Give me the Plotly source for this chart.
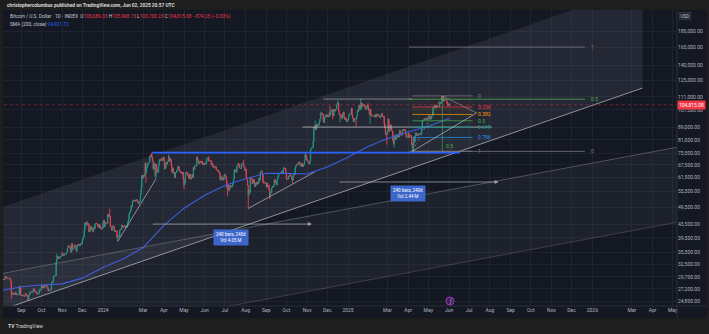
import math
import pandas as pd
import plotly.graph_objects as go

# ---------------- BTC/USD daily closes (thousands of USD) ----------------
close_2023_08 = [29.1, 29.05, 29.2, 29.8, 29.55, 29.4, 29.4, 29.3, 29.3, 29.4, 29.2, 28.7, 26.6, 26.05,
                 26.1, 26.2, 26.1, 26.4, 26.5, 26.0, 26.1, 26.0, 26.1, 26.1, 27.7, 27.3, 25.9]
close_2023_09 = [25.8, 25.9, 25.95, 25.8, 25.8, 25.75, 26.25, 25.9, 25.9, 25.85, 25.15, 25.85, 26.2, 26.5, 26.6,
                 26.55, 26.5, 26.8, 27.2, 27.1, 26.6, 26.55, 26.6, 26.25, 26.3, 26.2, 26.35, 27.0, 26.9, 27.0]
close_2023_10 = [27.95, 27.6, 27.4, 27.8, 27.4, 27.95, 27.95, 27.9, 27.6, 27.4, 26.85, 26.75, 26.85, 26.85, 27.15,
                 28.5, 28.4, 28.7, 29.7, 29.9, 29.9, 30.0, 33.1, 33.9, 34.5, 34.15, 33.9, 34.1, 34.5, 34.5, 34.65]
close_2023_11 = [35.4, 34.9, 34.7, 35.1, 35.0, 35.05, 35.4, 35.6, 36.7, 37.3, 37.1, 37.05, 36.5, 35.55, 37.9,
                 36.2, 36.6, 36.6, 37.4, 37.5, 37.4, 35.8, 37.4, 37.3, 37.7, 37.5, 37.25, 37.8, 37.85, 37.7]
close_2023_12 = [38.7, 39.5, 39.95, 41.8, 44.1, 43.8, 43.3, 44.2, 43.7, 43.8, 41.25, 41.45, 42.9, 43.0, 41.9,
                 42.25, 41.35, 42.6, 42.25, 43.65, 43.9, 43.95, 43.7, 43.0, 43.6, 42.5, 43.4, 42.6, 42.1, 42.15, 42.3]
close_2024_01 = [44.2, 45.0, 42.85, 44.2, 44.15, 43.95, 43.95, 47.0, 46.1, 46.6, 46.35, 42.9, 42.85, 41.75, 42.5,
                 43.15, 42.75, 41.3, 41.6, 41.65, 41.55, 39.5, 39.85, 40.1, 39.9, 41.8, 42.1, 42.0, 43.3, 42.95, 42.6]
close_2024_02 = [43.1, 43.2, 43.0, 42.6, 42.7, 43.1, 44.35, 45.3, 47.15, 47.75, 48.3, 49.95, 49.7, 51.8, 51.9,
                 52.1, 51.65, 52.1, 51.8, 52.3, 51.85, 51.3, 50.75, 51.6, 51.7, 54.5, 57.1, 62.5, 61.2]
close_2024_03 = [62.4, 62.0, 63.1, 68.3, 63.8, 66.1, 66.9, 68.3, 68.5, 69.0, 72.1, 71.5, 73.1, 71.4, 69.5,
                 65.3, 68.4, 67.6, 62.0, 67.9, 65.5, 63.8, 64.0, 67.2, 70.0, 69.95, 69.45, 70.8, 69.9, 69.7, 71.3]
close_2024_04 = [69.7, 65.45, 65.95, 68.5, 67.8, 68.9, 69.4, 71.6, 69.1, 70.6, 70.0, 67.1, 63.9, 65.7, 63.4,
                 63.8, 61.3, 63.5, 63.8, 64.9, 64.9, 66.8, 66.4, 64.3, 64.5, 63.8, 63.45, 63.1, 63.85, 60.6]
close_2024_05 = [58.2, 59.1, 62.9, 63.9, 64.0, 63.2, 62.3, 61.2, 63.1, 60.8, 60.8, 61.5, 62.9, 61.55, 66.2,
                 65.2, 67.0, 67.05, 66.9, 71.4, 70.1, 69.2, 67.9, 68.5, 69.3, 68.5, 69.4, 68.3, 67.6, 68.4, 67.5]
close_2024_06 = [67.7, 67.75, 68.8, 70.6, 71.05, 70.8, 69.35, 69.3, 69.65, 69.5, 67.3, 68.25, 66.75, 66.0, 66.2,
                 66.7, 66.5, 65.2, 64.95, 64.85, 64.1, 64.25, 63.2, 60.3, 61.8, 60.85, 61.7, 60.3, 60.9, 62.7]
close_2024_07 = [62.85, 62.0, 60.2, 57.05, 56.65, 58.2, 55.85, 56.7, 58.0, 57.7, 57.35, 57.9, 59.2, 60.8, 64.9,
                 65.1, 64.1, 63.9, 66.7, 67.15, 68.2, 67.6, 65.9, 65.8, 65.75, 67.9, 68.25, 68.25, 66.8, 66.2, 64.6]
close_2024_08 = [65.35, 61.4, 60.7, 58.1, 54.0, 56.0, 55.1, 61.7, 60.9, 60.9, 58.7, 59.3, 60.6, 58.7, 57.5,
                 59.0, 59.5, 58.4, 59.5, 59.0, 61.2, 60.4, 64.1, 64.2, 64.2, 62.8, 59.4, 59.0, 59.4, 59.1, 58.95]
close_2024_09 = [57.3, 59.1, 57.5, 57.95, 56.2, 53.95, 54.85, 54.9, 57.0, 57.6, 57.35, 58.1, 60.6, 60.0, 59.2,
                 58.2, 60.3, 61.8, 62.9, 63.2, 63.35, 63.6, 63.35, 64.3, 63.15, 65.2, 65.8, 65.9, 65.6, 63.3]
close_2024_10 = [60.8, 60.6, 60.75, 62.1, 62.05, 62.8, 62.2, 62.15, 60.6, 60.3, 62.45, 63.2, 62.85, 66.05, 67.0,
                 67.6, 67.4, 68.4, 68.35, 69.0, 67.4, 67.4, 66.65, 68.2, 66.6, 67.0, 67.9, 69.9, 72.7, 72.3, 70.2]
close_2024_11 = [69.5, 69.3, 68.7, 67.8, 69.3, 75.6, 75.9, 76.55, 76.7, 80.4, 88.7, 88.0, 90.4, 87.25, 91.05,
                 90.5, 89.8, 90.5, 92.3, 94.3, 98.4, 98.9, 97.7, 98.0, 93.0, 91.95, 95.95, 95.65, 97.45, 96.4]
close_2024_12 = [97.2, 95.85, 96.0, 98.8, 97.0, 99.9, 99.9, 101.2, 97.4, 96.6, 101.2, 100.0, 101.5, 101.4, 104.5,
                 106.1, 106.1, 100.0, 97.5, 97.75, 97.2, 95.1, 94.7, 98.6, 99.4, 95.8, 94.2, 95.2, 93.5, 92.6, 93.4]
close_2025_01 = [94.4, 96.9, 98.1, 98.2, 98.3, 102.1, 96.9, 95.0, 92.5, 94.7, 94.6, 94.5, 94.5, 96.5, 100.5,
                 99.75, 104.1, 104.4, 101.1, 102.0, 106.1, 103.6, 103.9, 104.8, 104.7, 102.6, 102.1, 101.3, 103.7, 104.7, 102.4]
close_2025_02 = [100.6, 97.7, 101.4, 97.9, 96.6, 96.5, 96.5, 96.5, 96.1, 97.4, 95.7, 97.8, 96.6, 97.5, 97.6,
                 96.1, 95.8, 95.5, 96.6, 98.3, 96.1, 96.5, 96.3, 91.4, 88.7, 84.3, 84.7, 84.4]
close_2025_03 = [86.1, 94.3, 86.1, 87.2, 90.6, 89.9, 86.8, 86.2, 80.6, 78.5, 82.9, 83.7, 81.1, 84.0, 84.3,
                 82.6, 84.1, 82.7, 86.9, 84.2, 84.0, 83.8, 86.1, 87.5, 87.4, 86.9, 87.2, 84.4, 82.6, 82.4, 82.5]
close_2025_04 = [85.2, 82.5, 83.1, 83.8, 83.5, 78.2, 79.2, 76.3, 82.6, 79.6, 83.4, 85.3, 83.7, 84.5, 83.7,
                 84.0, 84.9, 84.4, 85.1, 85.1, 87.5, 93.4, 93.7, 93.9, 94.7, 94.6, 93.8, 95.0, 94.3, 94.2]
close_2025_05 = [96.5, 96.9, 95.9, 94.3, 94.7, 96.8, 97.0, 103.2, 102.9, 104.7, 104.2, 102.8, 104.2, 103.5, 103.7,
                 103.5, 103.2, 106.5, 105.6, 106.8, 109.7, 111.7, 107.3, 107.8, 109.0, 109.4, 108.9, 107.8, 105.6, 103.9, 104.6]
close_2025_06 = [105.68933, 104.81508]

first_open_k = 29.2

# intraday extremes that reach past the open/close range (thousands of USD)
wick_high = {"2023-10-24": 35.2, "2023-12-08": 44.7, "2024-01-11": 49.0, "2024-03-05": 69.0,
             "2024-03-14": 73.8, "2024-04-08": 72.7, "2024-05-21": 71.9, "2024-06-07": 71.9,
             "2024-07-29": 70.0, "2024-08-25": 65.0, "2024-09-27": 66.5, "2024-10-29": 73.6,
             "2024-11-13": 93.3, "2024-11-22": 99.6, "2024-12-05": 103.9, "2024-12-17": 108.3,
             "2025-01-20": 109.6, "2025-01-31": 106.0, "2025-03-02": 95.0, "2025-05-22": 111.9,
             "2025-06-02": 105.96815}
wick_low = {"2023-08-17": 25.2, "2023-09-11": 24.9, "2024-01-23": 38.5, "2024-03-05": 59.0,
            "2024-03-20": 60.8, "2024-05-01": 56.5, "2024-07-05": 53.5, "2024-08-05": 49.0,
            "2024-09-06": 52.5, "2024-10-10": 58.9, "2024-12-09": 94.2, "2024-12-20": 92.2,
            "2025-01-13": 89.3, "2025-02-03": 91.2, "2025-02-28": 78.2, "2025-03-11": 76.6,
            "2025-04-07": 74.5, "2025-04-09": 74.6, "2025-06-02": 103.70023}

# 200-day simple moving average of the close (thousands of USD)
sma_dates = ["2023-08-05", "2023-09-01", "2023-10-01", "2023-11-01", "2023-12-01", "2024-01-01",
             "2024-02-01", "2024-03-01", "2024-04-01", "2024-05-01", "2024-06-01", "2024-07-01",
             "2024-08-01", "2024-09-01", "2024-10-01", "2024-11-01", "2024-12-01", "2025-01-01",
             "2025-02-01", "2025-03-01", "2025-04-01", "2025-05-01", "2025-06-02"]
sma_values = [26.9, 27.6, 27.95, 28.2, 29.4, 31.8, 33.9, 36.8, 43.3, 49.1, 54.0, 57.95,
              60.95, 63.4, 63.4, 63.1, 66.4, 71.3, 77.3, 81.8, 85.8, 89.5, 94.92172]

# axis ticks
x_tick_dates = ["2023-09-01", "2023-10-01", "2023-11-01", "2023-12-01", "2024-01-01", "2024-03-01",
                "2024-04-01", "2024-05-01", "2024-06-01", "2024-07-01", "2024-08-01", "2024-09-01",
                "2024-10-01", "2024-11-01", "2024-12-01", "2025-01-01", "2025-03-01", "2025-04-01",
                "2025-05-01", "2025-06-01", "2025-07-01", "2025-08-01", "2025-09-01", "2025-10-01",
                "2025-11-01", "2025-12-01", "2026-01-01", "2026-03-01", "2026-04-01", "2026-05-01"]
x_tick_text = ["Sep", "Oct", "Nov", "Dec", "2024", "Mar", "Apr", "May", "Jun", "Jul", "Aug", "Sep",
               "Oct", "Nov", "Dec", "2025", "Mar", "Apr", "May", "Jun", "Jul", "Aug", "Sep", "Oct",
               "Nov", "Dec", "2026", "Mar", "Apr", "May"]
y_tick_values = [180000, 160000, 140000, 125000, 111000, 101000, 89000, 81000, 73500, 67500,
                 61500, 55500, 49500, 43500, 39500, 35500, 32500, 29700, 27200, 24800]

# ---------------- build OHLC ----------------
months = [close_2023_08, close_2023_09, close_2023_10, close_2023_11, close_2023_12,
          close_2024_01, close_2024_02, close_2024_03, close_2024_04, close_2024_05, close_2024_06,
          close_2024_07, close_2024_08, close_2024_09, close_2024_10, close_2024_11, close_2024_12,
          close_2025_01, close_2025_02, close_2025_03, close_2025_04, close_2025_05, close_2025_06]
closes = [v * 1000 for m in months for v in m]
dates = pd.date_range("2023-08-05", "2025-06-02", freq="D")
assert len(dates) == len(closes), (len(dates), len(closes))
opens = [first_open_k * 1000] + closes[:-1]
highs = [max(o, c) for o, c in zip(opens, closes)]
lows = [min(o, c) for o, c in zip(opens, closes)]
pos = {d.strftime("%Y-%m-%d"): i for i, d in enumerate(dates)}
for d, v in wick_high.items():
    highs[pos[d]] = max(highs[pos[d]], v * 1000)
for d, v in wick_low.items():
    lows[pos[d]] = min(lows[pos[d]], v * 1000)

last_o, last_h, last_l, last_c = opens[-1], highs[-1], lows[-1], closes[-1]
chg = last_c - last_o
sma_last = sma_values[-1] * 1000

# ---------------- canvas geometry ----------------
W, H = 709, 334
ML, MR, MT, MB = 3, 32, 10, 28
PW, PH = W - ML - MR, H - MT - MB
BG_PANEL = "#141823"
BG_OUTER = "#1e1e1e"
GRID = "#1f2330"
TXT = "#b2b5be"
GREEN, RED, BLUE = "#089981", "#f23645", "#2962ff"
FONT = "Roboto"


def px(x):
    return (x - ML) / PW


def py(y):
    return (H - MB - y) / PH


def lg(v):
    return math.log10(v)


fig = go.Figure()


def seg(x, y, color, width=1.0, dash=None, fill=None, fillcolor=None):
    fig.add_trace(go.Scatter(x=x, y=y, mode="lines", fill=fill, fillcolor=fillcolor,
                             line=dict(color=color, width=width, dash=dash),
                             hoverinfo="skip", showlegend=False))


# ---------------- parallel channels ----------------
chan_a_x = ["2023-08-05", "2026-03-17"]
chan_a_upper = [49600, 251000]
chan_a_lower = [23400, 118500]
seg([chan_a_x[0], chan_a_x[1], chan_a_x[1], chan_a_x[0], chan_a_x[0]],
    [chan_a_upper[0], chan_a_upper[1], chan_a_lower[1], chan_a_lower[0], chan_a_upper[0]],
    "rgba(0,0,0,0)", 0, fill="toself", fillcolor="rgba(150,155,170,0.13)")

chan_b_x = ["2023-07-01", "2026-06-01"]
chan_b_upper = [29500, 78500]
chan_b_lower = [17000, 45300]
seg([chan_b_x[0], chan_b_x[1], chan_b_x[1], chan_b_x[0], chan_b_x[0]],
    [chan_b_upper[0], chan_b_upper[1], chan_b_lower[1], chan_b_lower[0], chan_b_upper[0]],
    "rgba(0,0,0,0)", 0, fill="toself", fillcolor="rgba(150,155,170,0.07)")

# fib retracement shading
fib_lo, fib_hi = 74500, 111900
fib_x0, fib_x1 = "2025-04-07", "2025-07-06"
fib_levels = [0, 0.236, 0.382, 0.5, 0.618, 0.786, 1]
fib_colors = ["#787b86", "#f23645", "#ff9800", "#4caf50", "#089981", "#2196f3", "#787b86"]
fib_fill = ["rgba(242,54,69,0.04)", "rgba(255,152,0,0.04)", "rgba(76,175,80,0.04)",
            "rgba(8,153,129,0.04)", "rgba(33,150,243,0.04)", "rgba(120,123,134,0.04)"]
fib_prices = [fib_hi - (fib_hi - fib_lo) * lv for lv in fib_levels]
for i in range(len(fib_levels) - 1):
    a, b = fib_prices[i], fib_prices[i + 1]
    seg([fib_x0, fib_x1, fib_x1, fib_x0, fib_x0], [a, a, b, b, a], "rgba(0,0,0,0)", 0,
        fill="toself", fillcolor=fib_fill[i])

# ---------------- candles ----------------
fig.add_trace(go.Candlestick(
    x=dates, open=opens, high=highs, low=lows, close=closes,
    increasing=dict(line=dict(color=GREEN, width=0.9), fillcolor=GREEN),
    decreasing=dict(line=dict(color=RED, width=0.9), fillcolor=RED),
    whiskerwidth=0, hoverinfo="skip", showlegend=False))

# SMA 200
fig.add_trace(go.Scatter(x=sma_dates, y=[v * 1000 for v in sma_values], mode="lines",
                         line=dict(color="#3d5ee0", width=1.1), hoverinfo="skip", showlegend=False))

# ---------------- drawings ----------------
# channel edges
seg([chan_a_x[0], chan_a_x[1]], chan_a_lower, "rgba(210,212,220,0.7)", 0.9)
seg([chan_b_x[0], chan_b_x[1]], chan_b_upper, "rgba(140,143,152,0.6)", 0.8)
seg([chan_b_x[0], chan_b_x[1]], chan_b_lower, "rgba(140,143,152,0.4)", 0.8)

# support trend lines
seg(["2024-01-23", "2024-03-20"], [38500, 60800], "rgba(210,212,220,0.75)", 0.8)
seg(["2024-08-05", "2024-11-12"], [49000, 64000], "rgba(210,212,220,0.75)", 0.8)

# horizontal levels
seg(["2024-03-14", "2025-06-17"], [73800, 73800], BLUE, 1.8)
seg(["2024-11-25", "2025-04-07"], [109300, 109300], "rgba(200,202,210,0.7)", 0.8)
seg(["2024-10-25", "2025-08-04"], [89000, 89000], "rgba(220,222,230,0.8)", 0.8)

# fib retracement lines + labels
for lv, pr, col in zip(fib_levels, fib_prices, fib_colors):
    seg([fib_x0, fib_x1], [pr, pr], col, 0.7)
    txt = "0" if lv == 0 else ("1" if lv == 1 else f"{lv:g}")
    fig.add_annotation(x=fib_x1, y=lg(pr), text=txt, showarrow=False, xanchor="left", xshift=3,
                       font=dict(family=FONT, size=5, color=col))
seg([fib_x0, "2025-05-22"], [fib_lo, fib_hi], "rgba(160,163,172,0.7)", 0.7, dash="dot")
seg(["2025-05-22", "2025-07-12"], [fib_hi, 98700], "rgba(160,163,172,0.7)", 0.8)
seg([fib_x0, "2025-07-12"], [fib_lo, 98700], "rgba(210,212,220,0.75)", 0.8)
seg(["2025-05-22", "2025-05-22"], [fib_lo, fib_hi], "rgba(76,175,80,0.7)", 0.8)
fig.add_annotation(x="2025-05-22", y=lg(fib_lo), text="0.5", showarrow=False, xanchor="left",
                   yanchor="bottom", xshift=2, font=dict(family=FONT, size=5, color="#4caf50"))

# log-scaled fib extension (0 / 0.5 / 1)
ext_x0, ext_x1 = "2025-04-02", "2025-12-21"
ext_lo, ext_hi = 74500, 160000
ext_mid = math.sqrt(ext_lo * ext_hi)
for lvl, pr, col in [("0", ext_lo, "#787b86"), ("0.5", ext_mid, "#4caf50"), ("1", ext_hi, "#787b86")]:
    seg([ext_x0, ext_x1], [pr, pr], col, 0.8)
    fig.add_annotation(x=ext_x1, y=lg(pr), text=lvl, showarrow=False, xanchor="left", xshift=4,
                       font=dict(family=FONT, size=5, color=col))

# current price line
seg(["2023-07-01", "2026-06-01"], [last_c, last_c], "rgba(242,54,69,0.7)", 0.6, dash="dot")

# date/price range measurements
for (d0, d1, lvl, box_d, box_p, vol) in [("2024-03-13", "2024-11-08", 43700, "2024-07-10", 39700, "4.05 M"),
                                         ("2024-12-17", "2025-08-14", 59500, "2025-03-31", 54500, "2.44 M")]:
    fig.add_annotation(x=d1, y=lg(lvl), ax=d0, ay=lg(lvl), xref="x", yref="y", axref="x", ayref="y",
                       showarrow=True, arrowhead=2, arrowsize=1, arrowwidth=0.8,
                       arrowcolor="rgba(180,182,190,0.85)", text="")
    fig.add_annotation(x=box_d, y=lg(box_p), text=f"240 bars, 240d<br>Vol {vol}", showarrow=False,
                       bgcolor="rgba(64,110,220,0.9)", borderpad=2, align="center",
                       font=dict(family=FONT, size=4.5, color="white"))

# ---------------- chrome ----------------
shapes = [
    dict(type="rect", xref="paper", yref="paper", x0=px(0), x1=px(W), y0=py(10), y1=py(0),
         fillcolor=BG_OUTER, line=dict(width=0), layer="below"),
    dict(type="rect", xref="paper", yref="paper", x0=px(0), x1=px(W), y0=py(H), y1=py(318),
         fillcolor=BG_OUTER, line=dict(width=0), layer="below"),
    dict(type="rect", xref="paper", yref="paper", x0=px(0), x1=px(3), y0=py(H), y1=py(0),
         fillcolor=BG_OUTER, line=dict(width=0), layer="below"),
    dict(type="rect", xref="paper", yref="paper", x0=px(707), x1=px(W), y0=py(H), y1=py(0),
         fillcolor=BG_OUTER, line=dict(width=0), layer="below"),
    dict(type="line", xref="paper", yref="paper", x0=1, x1=1, y0=py(318), y1=py(10),
         line=dict(color="#2a2e39", width=1)),
    dict(type="line", xref="paper", yref="paper", x0=px(3), x1=px(707), y0=0, y1=0,
         line=dict(color="#2a2e39", width=1)),
    # event marker on the time scale
    dict(type="circle", xref="paper", yref="paper", x0=px(446), x1=px(454), y0=py(305), y1=py(297),
         fillcolor="rgba(120,40,150,0.35)", line=dict(color="#b345d6", width=0.8)),
]

ann = [
    dict(x=px(5), y=py(5), text="<b>christophercolumbus published on TradingView.com, Jun 02, 2025 20:57 UTC</b>",
         font=dict(color="#d9d9d9", size=4.8)),
    dict(x=px(8), y=py(16),
         text=("Bitcoin / U.S. Dollar · 1D · INDEX  "
               f"O<span style='color:{RED}'>{last_o:,.2f}</span> "
               f"H<span style='color:{RED}'>{last_h:,.2f}</span> "
               f"L<span style='color:{RED}'>{last_l:,.2f}</span> "
               f"C<span style='color:{RED}'>{last_c:,.2f}</span> "
               f"<span style='color:{RED}'>{chg:,.2f} ({chg / last_o * 100:.2f}%)</span>").replace("-", "−"),
         font=dict(color="#c8cad0", size=4.8)),
    dict(x=px(8), y=py(24.5),
         text=f"SMA (200, close) <span style='color:{BLUE}'>{sma_last:,.2f}</span>",
         font=dict(color="#c8cad0", size=4.8)),
    dict(x=px(6), y=py(326), text="<b>TV</b> TradingView", font=dict(color="#d9d9d9", size=5)),
    dict(x=px(679), y=py(16), text="USD", bgcolor="#1e222d", bordercolor="#434651", borderwidth=0.6,
         borderpad=1, font=dict(color="#d1d4dc", size=4.5)),
    dict(x=px(450), y=py(301), text="ƒ", xanchor="center", font=dict(color="#e0a0ff", size=4.5)),
]
annotations = []
for a in ann:
    a.setdefault("xanchor", "left")
    a.update(xref="paper", yref="paper", showarrow=False, yanchor="middle")
    a["font"].setdefault("family", FONT)
    annotations.append(a)

# last price tag on the price scale
annotations.append(dict(x=1, y=lg(last_c), xref="paper", yref="y", xanchor="left", yanchor="middle",
                        showarrow=False, text=f"{last_c:,.2f}", bgcolor=RED, borderpad=1, xshift=0,
                        font=dict(family=FONT, color="white", size=5)))

for a in annotations:
    fig.add_annotation(**a)

fig.update_layout(
    width=W, height=H, margin=dict(l=ML, r=MR, t=MT, b=MB),
    paper_bgcolor=BG_PANEL, plot_bgcolor=BG_PANEL,
    showlegend=False, shapes=shapes,
    font=dict(family=FONT, size=5, color=TXT),
    xaxis=dict(type="date", range=["2023-08-04 14:24", "2026-05-07 12:00"],
               tickvals=x_tick_dates, ticktext=x_tick_text, showgrid=True, gridcolor=GRID,
               gridwidth=1, zeroline=False, showline=False, ticks="",
               tickfont=dict(family=FONT, size=5, color=TXT), rangeslider=dict(visible=False)),
    yaxis=dict(type="log", side="right", range=[lg(23969), lg(209970)],
               tickvals=y_tick_values, ticktext=[f"{v:,.2f}" for v in y_tick_values],
               showgrid=True, gridcolor=GRID, gridwidth=1, zeroline=False, showline=False,
               ticks="", ticklen=0, tickfont=dict(family=FONT, size=5, color=TXT)),
)

fig.write_html("out.html")
